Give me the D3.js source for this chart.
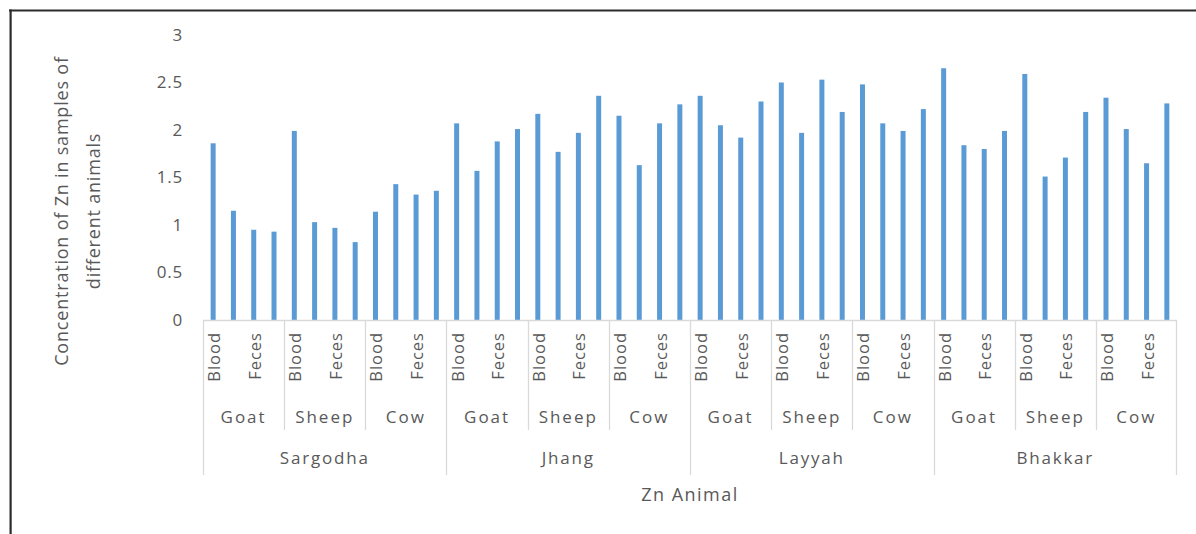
<!DOCTYPE html>
<html><head><meta charset="utf-8">
<script src="https://cdn.jsdelivr.net/npm/d3@7"></script>
<style>body{margin:0;background:#fff;} text{font-family:"Open Sans",sans-serif;fill:#595959;}</style>
</head><body>
<svg id="c" width="1196" height="534"></svg>
<script>
const regions = ["Sargodha","Jhang","Layyah","Bhakkar"];
const animals = ["Goat","Sheep","Cow"];
const samples = ["Blood","","Feces",""];
const yTicks = [0,0.5,1,1.5,2,2.5,3];
// values: region -> animal -> 4 samples
const sargodha = [[1.86,1.15,0.95,0.93],[1.99,1.03,0.97,0.82],[1.14,1.43,1.32,1.36]];
const jhang    = [[2.07,1.57,1.88,2.01],[2.17,1.77,1.97,2.36],[2.15,1.63,2.07,2.27]];
const layyah   = [[2.36,2.05,1.92,2.30],[2.50,1.97,2.53,2.19],[2.48,2.07,1.99,2.22]];
const bhakkar  = [[2.65,1.84,1.80,1.99],[2.59,1.51,1.71,2.19],[2.34,2.01,1.65,2.28]];
const values = [sargodha, jhang, layyah, bhakkar];

const rows = [];
regions.forEach((r,ri)=>animals.forEach((a,ai)=>samples.forEach((s,si)=>{
  rows.push({key:r+"|"+a+"|"+si, region:r, animal:a, sample:s, ri, ai, si, v:values[ri][ai][si]});
})));

const svg = d3.select("#c");
const x0 = 203, x1 = 1177, yBase = 320;
const p = 0.754;
const x = d3.scaleBand().domain(rows.map(d=>d.key)).range([x0,x1]).paddingInner(p).paddingOuter(p/2);
const y = d3.scaleLinear().domain([0,3]).range([yBase,35]);
const step = x.step();
const boundary = k => x(k) - step*p/2;

// frame
svg.append("rect").attr("x",9).attr("y",9.5).attr("width",1187).attr("height",2).attr("fill","#2b2b2b");
svg.append("rect").attr("x",9.5).attr("y",9.5).attr("width",2.2).attr("height",525).attr("fill","#2b2b2b");

// y tick labels
svg.append("g").selectAll("text").data(yTicks).join("text")
  .attr("x",183).attr("y",d=>y(d)).attr("dy","0.35em").attr("text-anchor","end")
  .style("font-size","17px").style("letter-spacing","0.8px").text(d=>d);

// bars
svg.append("g").selectAll("rect").data(rows).join("rect")
  .attr("x",d=>x(d.key)).attr("width",x.bandwidth())
  .attr("y",d=>y(d.v)).attr("height",d=>y(0)-y(d.v)).attr("fill","#5b9bd5");

// category axis
const g = svg.append("g").attr("stroke","#d9d9d9").attr("stroke-width",1.3);
g.append("line").attr("x1",x0).attr("x2",x1).attr("y1",yBase+0.5).attr("y2",yBase+0.5);
rows.filter(d=>d.si===0).forEach(d=>{
  const bx = Math.round(boundary(d.key))+0.5;
  g.append("line").attr("x1",bx).attr("x2",bx).attr("y1",yBase).attr("y2",d.ai===0?475:430);
});
g.append("line").attr("x1",x1-0.5).attr("x2",x1-0.5).attr("y1",yBase).attr("y2",475);

// sample labels
svg.append("g").selectAll("text").data(rows.filter(d=>d.sample!=="")).join("text")
  .attr("transform",d=>`translate(${x(d.key)+x.bandwidth()/2+1},332) rotate(-90)`)
  .attr("dy","0.36em").attr("text-anchor","end")
  .style("font-size","16.5px").style("letter-spacing","1px").text(d=>d.sample);

// animal labels
const animalRows = rows.filter(d=>d.si===0);
svg.append("g").selectAll("text").data(animalRows).join("text")
  .attr("x",d=>boundary(d.key)+step*2).attr("y",423).attr("text-anchor","middle")
  .style("font-size","17px").style("letter-spacing","2px").text(d=>d.animal);

// region labels
const regionRows = rows.filter(d=>d.si===0 && d.ai===0);
svg.append("g").selectAll("text").data(regionRows).join("text")
  .attr("x",d=>boundary(d.key)+step*6).attr("y",464).attr("text-anchor","middle")
  .style("font-size","17px").style("letter-spacing","1.8px").text(d=>d.region);

// axis titles
svg.append("text").attr("x",(x0+x1)/2).attr("y",501).attr("text-anchor","middle")
  .style("font-size","18px").style("letter-spacing","1.5px").text("Zn Animal");
const yt = svg.append("text").attr("transform","translate(0,211) rotate(-90)").attr("text-anchor","middle")
  .style("font-size","18px").style("letter-spacing","0.8px");
yt.append("tspan").attr("x",0).attr("y",68).text("Concentration of Zn in samples of");
yt.append("tspan").attr("x",0).attr("y",100).text("different animals");
</script>
</body></html>
